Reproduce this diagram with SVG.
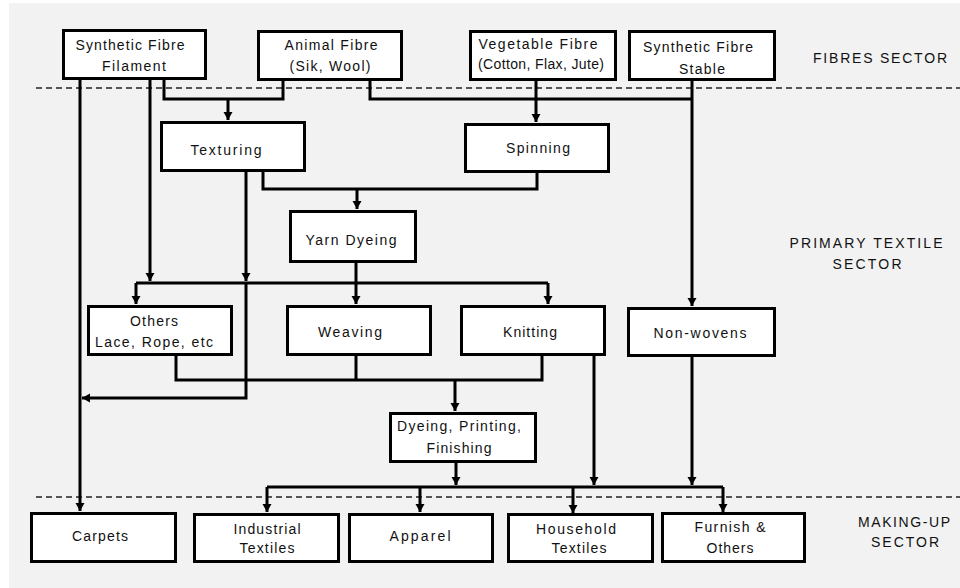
<svg xmlns="http://www.w3.org/2000/svg" width="960" height="588" viewBox="0 0 960 588">
<defs>
<style>
.bg{fill:#f2f2f2}
.box{fill:#fff;stroke:#000;stroke-width:3}
.c{fill:none;stroke:#000;stroke-width:3}
.a{fill:none;stroke:#000;stroke-width:3;marker-end:url(#ah)}
.d{fill:none;stroke:#222;stroke-width:1.5;stroke-dasharray:6 4}
text{font-family:"Liberation Sans",Arial,sans-serif;font-size:14px;fill:#111;text-anchor:middle}
.s{font-size:14px}
</style>
<marker id="ah" markerUnits="userSpaceOnUse" markerWidth="10" markerHeight="10" refX="8" refY="4.5" orient="auto">
<path d="M0,0 L8,4.5 L0,9 z" fill="#000"/>
</marker>
</defs>
<rect x="0" y="0" width="960" height="588" fill="#fff"/>
<rect class="bg" x="9" y="3" width="951" height="585"/>
<g id="dividers">
<line class="d" x1="36" y1="88" x2="960" y2="88"/>
<line class="d" x1="36" y1="497" x2="960" y2="497"/>
</g>
<g id="connectors">
<path class="a" d="M80,80 V511"/>
<path class="a" d="M150,80 V281"/>
<path class="c" d="M164,80 V99 H283 V81"/>
<path class="a" d="M228,99 V120"/>
<path class="c" d="M370,81 V99 H692"/>
<path class="a" d="M692,81 V306"/>
<path class="a" d="M536,81 V122"/>
<path class="a" d="M246,172 V281"/>
<path class="a" d="M246,283 V398 H82"/>
<path class="c" d="M263,172 V189 H537 V173"/>
<path class="a" d="M357,189 V209"/>
<path class="a" d="M356,263 V304"/>
<path class="c" d="M136,283 H548"/>
<path class="a" d="M136,283 V304"/>
<path class="a" d="M548,283 V304"/>
<path class="c" d="M176,356 V380 H542 V356"/>
<path class="c" d="M356,356 V380"/>
<path class="a" d="M455,380 V411"/>
<path class="a" d="M594,356 V485"/>
<path class="a" d="M692,357 V485"/>
<path class="a" d="M456,463 V485"/>
<path class="c" d="M267,487 H723"/>
<path class="a" d="M267,487 V512"/>
<path class="a" d="M420,487 V512"/>
<path class="a" d="M573,487 V513"/>
<path class="a" d="M723,487 V512"/>
</g>
<g id="n-filament"><rect class="box" x="63.5" y="30.5" width="142" height="48"/><text x="130" y="50" textLength="109" lengthAdjust="spacing">Synthetic Fibre</text><text x="134" y="71" textLength="64" lengthAdjust="spacing">Filament</text></g>
<g id="n-animal"><rect class="box" x="258.5" y="31.5" width="143" height="48"/><text x="331" y="50" textLength="93" lengthAdjust="spacing">Animal Fibre</text><text x="330" y="71" textLength="81" lengthAdjust="spacing">(Sik, Wool)</text></g>
<g id="n-vegetable"><rect class="box" x="470.5" y="31.5" width="145" height="48"/><text x="538" y="49" textLength="119" lengthAdjust="spacing">Vegetable Fibre</text><text x="541" y="69" textLength="126" lengthAdjust="spacing">(Cotton, Flax, Jute)</text></g>
<g id="n-stable"><rect class="box" x="629.5" y="31.5" width="145" height="48"/><text x="698" y="52" textLength="110" lengthAdjust="spacing">Synthetic Fibre</text><text x="702" y="74" textLength="46" lengthAdjust="spacing">Stable</text></g>
<g id="n-texturing"><rect class="box" x="161.5" y="122.5" width="143" height="48"/><text x="226" y="155" textLength="71" lengthAdjust="spacing">Texturing</text></g>
<g id="n-spinning"><rect class="box" x="465.5" y="124.5" width="143" height="47"/><text x="538" y="153" textLength="64" lengthAdjust="spacing">Spinning</text></g>
<g id="n-yarn"><rect class="box" x="290.5" y="211.5" width="125" height="50"/><text x="351" y="245" textLength="91" lengthAdjust="spacing">Yarn Dyeing</text></g>
<g id="n-others"><rect class="box" x="88.5" y="306.5" width="143" height="48"/><text x="154" y="326" textLength="48" lengthAdjust="spacing">Others</text><text x="154" y="347" textLength="118" lengthAdjust="spacing">Lace, Rope, etc</text></g>
<g id="n-weaving"><rect class="box" x="287.5" y="306.5" width="143" height="48"/><text x="350" y="337" textLength="64" lengthAdjust="spacing">Weaving</text></g>
<g id="n-knitting"><rect class="box" x="461.5" y="306.5" width="143" height="48"/><text x="530" y="337" textLength="54" lengthAdjust="spacing">Knitting</text></g>
<g id="n-nonwovens"><rect class="box" x="628.5" y="308.5" width="146" height="47"/><text x="700" y="338" textLength="93" lengthAdjust="spacing">Non-wovens</text></g>
<g id="n-dyeing"><rect class="box" x="390.5" y="413.5" width="145" height="48"/><text x="459" y="431" textLength="124" lengthAdjust="spacing">Dyeing, Printing,</text><text x="459" y="453" textLength="65" lengthAdjust="spacing">Finishing</text></g>
<g id="n-carpets"><rect class="box" x="31.5" y="513.5" width="144" height="48"/><text x="100" y="541" textLength="56" lengthAdjust="spacing">Carpets</text></g>
<g id="n-industrial"><rect class="box" x="194.5" y="514.5" width="144" height="47"/><text x="267" y="534" textLength="67" lengthAdjust="spacing">Industrial</text><text x="267" y="553" textLength="55" lengthAdjust="spacing">Textiles</text></g>
<g id="n-apparel"><rect class="box" x="349.5" y="514.5" width="143" height="47"/><text x="420" y="541" textLength="61" lengthAdjust="spacing">Apparel</text></g>
<g id="n-household"><rect class="box" x="508.5" y="514.5" width="144" height="47"/><text x="576" y="534" textLength="80" lengthAdjust="spacing">Household</text><text x="579" y="553" textLength="55" lengthAdjust="spacing">Textiles</text></g>
<g id="n-furnish"><rect class="box" x="662.5" y="513.5" width="142" height="48"/><text x="730" y="532" textLength="71" lengthAdjust="spacing">Furnish &amp;</text><text x="730" y="553" textLength="47" lengthAdjust="spacing">Others</text></g>
<g id="sector-labels">
<text x="880" y="63" textLength="134" lengthAdjust="spacing">FIBRES SECTOR</text>
<text x="866" y="248" textLength="153" lengthAdjust="spacing">PRIMARY TEXTILE</text>
<text x="867" y="269" textLength="69" lengthAdjust="spacing">SECTOR</text>
<text x="904" y="527" textLength="92" lengthAdjust="spacing">MAKING-UP</text>
<text x="905" y="547" textLength="68" lengthAdjust="spacing">SECTOR</text>
</g>
</svg>
